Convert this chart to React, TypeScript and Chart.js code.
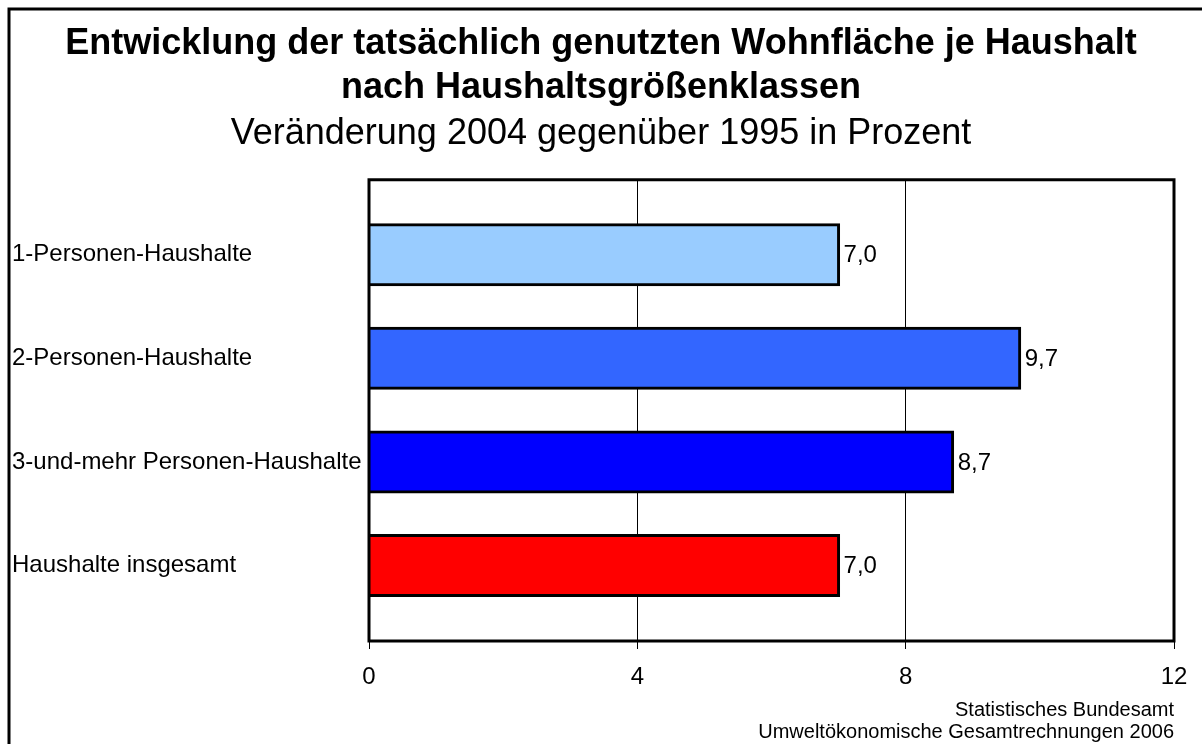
import React, { useEffect, useRef } from 'react';
import { Chart, registerables } from 'chart.js';

Chart.register(...registerables);

const titleLines = ['Entwicklung der tatsächlich genutzten Wohnfläche je Haushalt', 'nach Haushaltsgrößenklassen'];
const subtitleText = 'Veränderung 2004 gegenüber 1995 in Prozent';
const categories = ['1-Personen-Haushalte', '2-Personen-Haushalte', '3-und-mehr Personen-Haushalte', 'Haushalte insgesamt'];
const values = [7.0, 9.7, 8.7, 7.0];
const barColors = ['#99CCFF', '#3366FF', '#0000FF', '#FF0000'];
const xTicks = [0, 4, 8, 12];
const sourceLines = ['Statistisches Bundesamt', 'Umweltökonomische Gesamtrechnungen 2006'];

const FONT = '"Liberation Sans", Arial, Helvetica, sans-serif';

const frame = {
  id: 'frame',
  beforeDraw(chart: any) {
    const ctx = chart.ctx;
    ctx.save();
    ctx.strokeStyle = '#000';
    ctx.lineWidth = 3;
    ctx.beginPath();
    ctx.moveTo(9, chart.height + 5);
    ctx.lineTo(9, 9);
    ctx.lineTo(chart.width + 5, 9);
    ctx.stroke();
    ctx.restore();
  },
  afterDatasetsDraw(chart: any) {
    const { left, top, right, bottom } = chart.chartArea;
    const ctx = chart.ctx;
    ctx.save();
    ctx.strokeStyle = '#000';
    ctx.lineWidth = 3;
    ctx.strokeRect(left, top, right - left, bottom - top);
    ctx.restore();
  },
};

const valueLabels = {
  id: 'valueLabels',
  afterDatasetsDraw(chart: any) {
    const ctx = chart.ctx;
    const meta = chart.getDatasetMeta(0);
    ctx.save();
    ctx.font = `24px ${FONT}`;
    ctx.fillStyle = '#000';
    ctx.textAlign = 'left';
    ctx.textBaseline = 'middle';
    meta.data.forEach((el: any, i: number) => {
      const { x, y } = el.getProps(['x', 'y'], true);
      ctx.fillText(values[i].toFixed(1).replace('.', ','), x + 5, y + 1);
    });
    ctx.restore();
  },
};

export default function App() {
  const ref = useRef<HTMLCanvasElement | null>(null);

  useEffect(() => {
    if (!ref.current) return;
    Chart.defaults.font.family = FONT;
    Chart.defaults.color = '#000';
    const chart = new Chart(ref.current, {
      type: 'bar',
      data: {
        datasets: [
          {
            data: values.map((v, i) => ({ x: v, y: i })),
            backgroundColor: barColors,
            borderColor: '#000',
            borderWidth: 3,
            barThickness: 60,
            inflateAmount: 1.5,
          } as any,
        ],
      },
      options: {
        indexAxis: 'y',
        responsive: false,
        animation: false,
        layout: { padding: { left: 12, right: 12, top: 0, bottom: 0 } },
        plugins: {
          legend: { display: false },
          tooltip: { enabled: false },
          title: {
            display: true,
            text: titleLines,
            color: '#000',
            font: { size: 36, weight: 'bold', lineHeight: 1.22 },
            padding: { top: 22, bottom: 0 },
          },
          subtitle: {
            display: true,
            text: subtitleText,
            color: '#000',
            font: { size: 36, weight: 'normal', lineHeight: 1.22 },
            padding: { top: 2, bottom: 24 },
          },
        },
        scales: {
          x: {
            type: 'linear',
            position: 'bottom',
            min: 0,
            max: 12,
            offset: false,
            afterBuildTicks: (s: any) => {
              s.ticks = xTicks.map((v) => ({ value: v }));
            },
            afterFit: (s: any) => {
              s.height = 103;
            },
            grid: { color: '#000', lineWidth: 1, drawTicks: true, tickLength: 8 },
            border: { display: false },
            ticks: { font: { size: 24 }, color: '#000', padding: 14 },
            title: {
              display: true,
              text: sourceLines,
              align: 'end',
              color: '#000',
              font: { size: 20, lineHeight: 1.1 },
              padding: { top: 0, bottom: 1 },
            },
          },
          y: {
            type: 'linear',
            position: 'left',
            reverse: true,
            offset: false,
            min: -0.725,
            max: 3.73,
            afterBuildTicks: (s: any) => {
              s.ticks = categories.map((_, i) => ({ value: i }));
            },
            afterFit: (s: any) => {
              s.width = 357;
            },
            grid: { display: false },
            border: { display: false },
            ticks: {
              font: { size: 24 },
              color: '#000',
              crossAlign: 'far',
              autoSkip: false,
              callback: (v: any) => categories[v as number] ?? '',
            },
          },
          y2: {
            type: 'linear',
            position: 'right',
            display: true,
            offset: false,
            afterFit: (s: any) => {
              s.width = 16;
            },
            grid: { display: false },
            border: { display: false },
            ticks: { display: false },
          },
        },
      } as any,
      plugins: [frame, valueLabels],
    });
    return () => chart.destroy();
  }, []);

  return (
    <div style={{ position: 'absolute', left: 0, top: 0, width: 1202, height: 744, background: '#fff' }}>
      <canvas ref={ref} width={1202} height={744} style={{ width: 1202, height: 744, display: 'block' }} />
    </div>
  );
}
